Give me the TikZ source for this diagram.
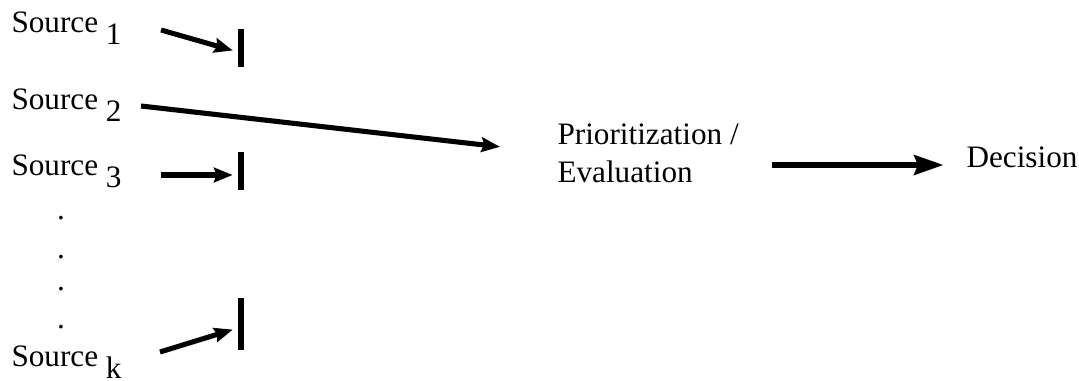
\documentclass[tikz,border=0pt]{standalone}
\usepackage{fontspec}
\setmainfont{Liberation Serif}
\usetikzlibrary{arrows.meta}

\newcommand{\srcsub}[1]{\raisebox{-4.5pt}{#1}}

\begin{document}
\begin{tikzpicture}[x=0.375pt, y=-0.375pt,
    every node/.style={inner sep=0pt, font=\fontsize{11.7}{13.9}\selectfont},
    source/.style={anchor=base west},
    flow/.style={line width=1.9pt, -{Stealth[length=7pt,width=5.5pt,inset=1pt]}},
    bigflow/.style={line width=1.9pt, -{Stealth[length=11pt,width=7.5pt,inset=1.5pt]}},
    stopbar/.style={fill=black, minimum width=1.9pt, minimum height=#1, inner sep=0pt}]

    \useasboundingbox (0,0) rectangle (1079,381);

    % Sources
    \node[source] (src1) at (11,33) {Source \srcsub{1}};
    \node[source] (src2) at (11,110) {Source \srcsub{2}};
    \node[source] (src3) at (11,175) {Source \srcsub{3}};
    \node[source] (srck) at (11,366) {Source \srcsub{k}};

    % Dots between source 3 and source k
    \foreach \y [count=\i] in {218,257,289,327}
        \node (dot\i) at (61,\y) {.};

    % Blocking bars
    \node[stopbar=14.6pt] (bar1) at (241,48) {};
    \node[stopbar=14.3pt] (bar3) at (241,171) {};
    \node[stopbar=19.5pt] (bark) at (241,324) {};

    % Free ends of the arrows
    \coordinate (t1) at (161,30);
    \coordinate (t2) at (141,106);
    \coordinate (t3) at (161,175);
    \coordinate (tk) at (160,352);

    % Blocked sources
    \draw[flow, shorten >=2pt] (t1) -- ([yshift=-1.5pt]bar1.west);
    \draw[flow, shorten >=2pt] (t3) -- (t3 -| bar3.west);
    \draw[flow, shorten >=2pt] (tk) -- ([yshift=-1.5pt]bark.west);

    % Prioritization and decision
    \node[anchor=base west, align=left] (prio) at (557,182) {Prioritization /\\Evaluation};
    \node[anchor=base west] (dec) at (966,168) {Decision};
    \draw[flow, shorten >=21.5pt] (t2) -- (prio.west);
    \coordinate (t4) at (772,165);
    \draw[bigflow, shorten >=8.5pt] (t4) -- (t4 -| dec.west);
\end{tikzpicture}
\end{document}
